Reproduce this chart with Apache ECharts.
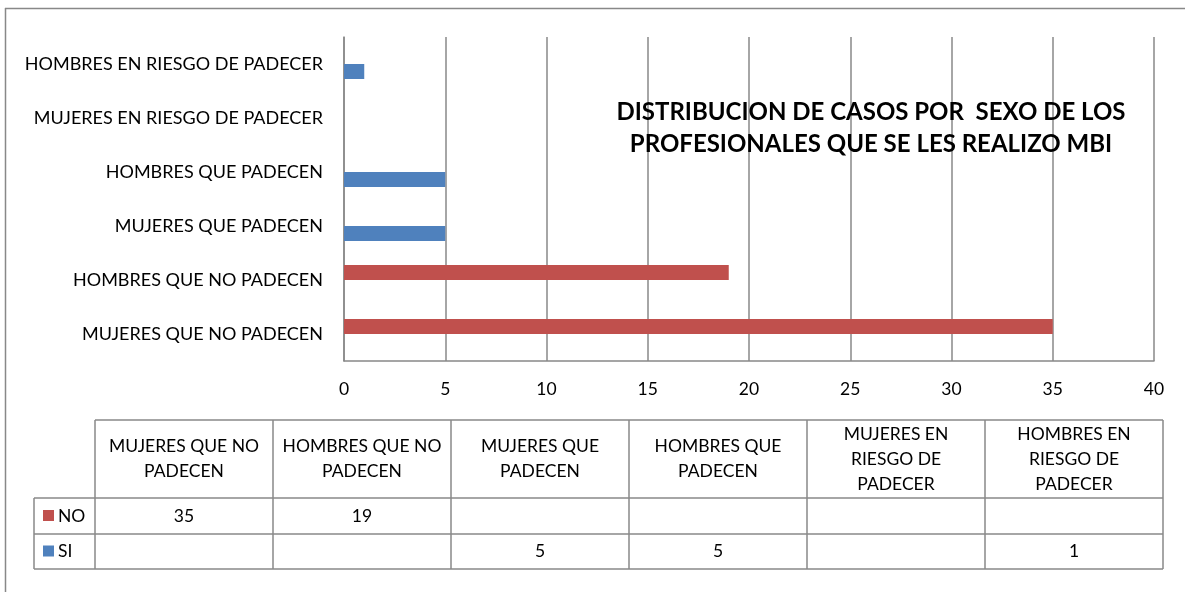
<!DOCTYPE html>
<html>
<head>
<meta charset="utf-8">
<script src="https://cdn.jsdelivr.net/npm/echarts@6/dist/echarts.min.js"></script>
<style>html,body{margin:0;padding:0;background:#fff;}#chart{width:1185px;height:592px;}</style>
</head>
<body>
<div id="chart"></div>
<script>
// Categories listed bottom-to-top on the chart, left-to-right in the table
const categories = [
  'MUJERES QUE NO PADECEN',
  'HOMBRES QUE NO PADECEN',
  'MUJERES QUE PADECEN',
  'HOMBRES QUE PADECEN',
  'MUJERES EN RIESGO DE PADECER',
  'HOMBRES EN RIESGO DE PADECER'
];
const seriesNames = ['NO', 'SI'];
const valuesNO = [35, 19, null, null, null, null];
const valuesSI = [null, null, 5, 5, null, 1];
const xTicks = [0, 5, 10, 15, 20, 25, 30, 35, 40];
const titleText = 'DISTRIBUCION DE CASOS POR  SEXO DE LOS\nPROFESIONALES QUE SE LES REALIZO MBI';

const colors = ['#C0504D', '#4F81BD'];
const FONT = 'Lato, "Open Sans", sans-serif';
const lineColor = '#888888';

function wrap(s, maxChars) {
  const words = s.split(' ');
  const lines = [];
  let cur = '';
  words.forEach(w => {
    if (!cur) cur = w;
    else if ((cur + ' ' + w).length <= maxChars) cur += ' ' + w;
    else { lines.push(cur); cur = w; }
  });
  if (cur) lines.push(cur);
  return lines.join('\n');
}

const chart = echarts.init(document.getElementById('chart'));

// Table geometry
const tLeft = 95, colW = 178, labelLeft = 34;
const hTop = 420, hBot = 498, r1Bot = 534, r2Bot = 569;
const nCols = categories.length;
const tRight = tLeft + colW * nCols;
const tableFont = '17.5px ' + FONT;
const graphics = [];
// outer border (top and left)
graphics.push({type:'line', shape:{x1:5, y1:8.5, x2:1185, y2:8.5}, style:{stroke:lineColor, lineWidth:1.5}});
graphics.push({type:'line', shape:{x1:5.5, y1:8, x2:5.5, y2:592}, style:{stroke:lineColor, lineWidth:1.5}});
// horizontal lines
graphics.push({type:'line', shape:{x1:tLeft, y1:hTop, x2:tRight, y2:hTop}, style:{stroke:lineColor, lineWidth:1.5}});
[hBot, r1Bot, r2Bot].forEach(y => {
  graphics.push({type:'line', shape:{x1:labelLeft, y1:y, x2:tRight, y2:y}, style:{stroke:lineColor, lineWidth:1.5}});
});
// vertical lines
graphics.push({type:'line', shape:{x1:labelLeft, y1:hBot, x2:labelLeft, y2:r2Bot}, style:{stroke:lineColor, lineWidth:1.5}});
for (let i = 0; i <= nCols; i++) {
  const x = tLeft + colW * i;
  graphics.push({type:'line', shape:{x1:x, y1:hTop, x2:x, y2:r2Bot}, style:{stroke:lineColor, lineWidth:1.5}});
}
// headers
categories.forEach((c, i) => {
  graphics.push({type:'text', x: tLeft + colW * i + colW / 2, y: (hTop + hBot) / 2,
    style:{text: wrap(c, 14), font: tableFont, fill:'#000', align:'center', verticalAlign:'middle', lineHeight:25}});
});
// rows
const rowValues = [valuesNO, valuesSI];
const rowCenters = [(hBot + r1Bot) / 2, (r1Bot + r2Bot) / 2];
rowValues.forEach((vals, r) => {
  const yc = rowCenters[r];
  graphics.push({type:'rect', shape:{x:43, y:yc - 6, width:11, height:11}, style:{fill:colors[r]}});
  graphics.push({type:'text', x:58, y:yc, style:{text:seriesNames[r], font:tableFont, fill:'#000', align:'left', verticalAlign:'middle'}});
  vals.forEach((v, i) => {
    if (v == null) return;
    graphics.push({type:'text', x: tLeft + colW * i + colW / 2, y: yc,
      style:{text:String(v), font:tableFont, fill:'#000', align:'center', verticalAlign:'middle'}});
  });
});

chart.setOption({
  animation: false,
  backgroundColor: '#fff',
  title: {
    text: titleText,
    left: 866, top: 91, textAlign: 'center',
    textStyle: {fontFamily: FONT, fontSize: 24, fontWeight: 'bold', color: '#000', lineHeight: 32}
  },
  grid: {left: 344, top: 37, width: 810, height: 324, containLabel: false},
  xAxis: {
    type: 'value', min: xTicks[0], max: xTicks[xTicks.length - 1], interval: xTicks[1] - xTicks[0],
    axisLine: {show: true, lineStyle: {color: lineColor, width: 1.5}},
    axisTick: {show: false},
    axisLabel: {color: '#000', fontFamily: FONT, fontSize: 17.5, margin: 19},
    splitLine: {show: true, lineStyle: {color: lineColor, width: 1.5}}
  },
  yAxis: {
    type: 'category', data: categories,
    axisLine: {show: true, lineStyle: {color: lineColor, width: 1.5}},
    axisTick: {show: false},
    axisLabel: {color: '#000', fontFamily: FONT, fontSize: 18, margin: 21}
  },
  series: [
    {name: seriesNames[0], type: 'bar', data: valuesNO, barWidth: 15, barGap: '0%', itemStyle: {color: colors[0]}},
    {name: seriesNames[1], type: 'bar', data: valuesSI, barWidth: 15, barGap: '0%', itemStyle: {color: colors[1]}}
  ],
  graphic: graphics
});
</script>
</body>
</html>
